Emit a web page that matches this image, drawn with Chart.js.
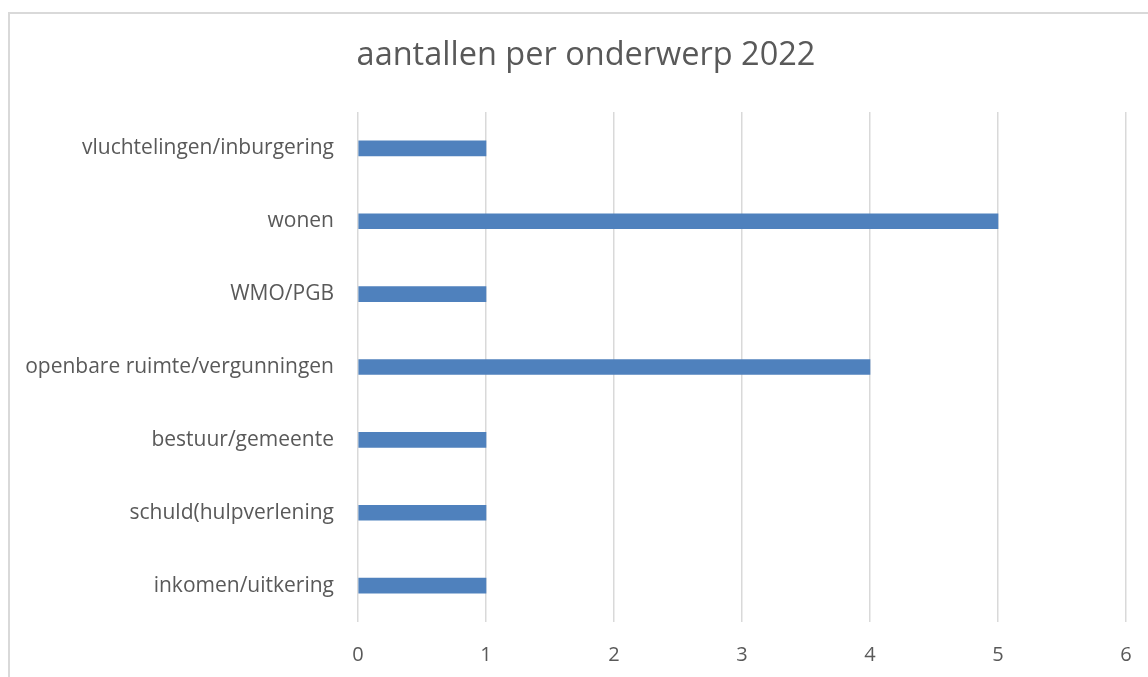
<!DOCTYPE html>
<html>
<head>
<meta charset="utf-8">
<script src="https://cdn.jsdelivr.net/npm/chart.js@4"></script>
<style>
  html, body { margin: 0; padding: 0; background: #fff; overflow: hidden; }
  #frame {
    position: absolute; left: 8px; top: 12px;
    width: 1200px; height: 720px;
    border: 2px solid #d9d9d9; box-sizing: border-box;
  }
  #wrap { position: absolute; left: 0; top: 0; width: 1148px; height: 677px; }
</style>
</head>
<body>
<div id="frame"></div>
<div id="wrap"><canvas id="chart" width="1148" height="677"></canvas></div>
<script>
// data
const categories = [
  "vluchtelingen/inburgering",
  "wonen",
  "WMO/PGB",
  "openbare ruimte/vergunningen",
  "bestuur/gemeente",
  "schuld(hulpverlening",
  "inkomen/uitkering"
];
const counts = [1, 5, 1, 4, 1, 1, 1];
const xTicks = [0, 1, 2, 3, 4, 5, 6];

const textColor = "#595959";
const gridColor = "#d9d9d9";
const fontFamily = "'Open Sans', sans-serif";

new Chart(document.getElementById("chart"), {
  type: "bar",
  data: {
    labels: categories,
    datasets: [{
      data: counts,
      backgroundColor: "#4f81bd",
      barThickness: 15
    }]
  },
  options: {
    indexAxis: "y",
    responsive: false,
    animation: false,
    layout: { padding: { left: 46, right: 22, top: 0, bottom: 0 } },
    plugins: {
      legend: { display: false },
      tooltip: { enabled: false },
      title: {
        display: true,
        text: "aantallen per onderwerp 2022",
        color: textColor,
        font: { family: fontFamily, size: 32.5, weight: "normal", lineHeight: 1.2 },
        padding: { top: 36.5, bottom: 36.5 }
      }
    },
    scales: {
      x: {
        min: xTicks[0],
        max: xTicks[xTicks.length - 1],
        ticks: {
          stepSize: 1,
          color: textColor,
          font: { family: fontFamily, size: 20 },
          padding: 21
        },
        grid: { color: gridColor, lineWidth: 1.5, drawTicks: false },
        border: { display: false },
        afterFit: s => {
          s.height = 55;
          s.paddingLeft = 0;
          s.paddingRight = 0;
        }
      },
      y: {
        ticks: {
          color: textColor,
          font: { family: fontFamily, size: 21 },
          padding: 24
        },
        grid: { display: false, drawTicks: false },
        border: { display: false },
        afterFit: s => {
          s.width = 312;
          // long labels may run into the left padding, don't clip them
          s._computeLabelArea = () => undefined;
        }
      }
    }
  }
});
</script>
</body>
</html>
